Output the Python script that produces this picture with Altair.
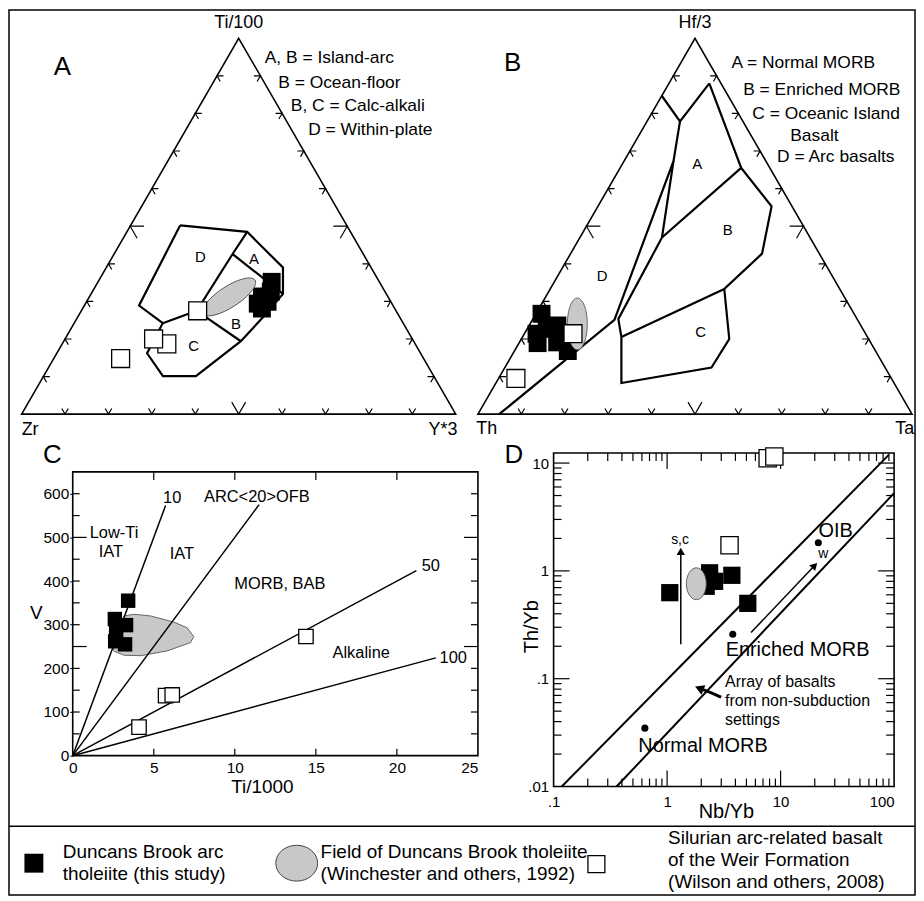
import math
import altair as alt
import pandas as pd

FONT = "Liberation Sans"
H = math.sqrt(3) / 2
GREY = "#c8c8c8"
EDGE = "#444444"
BLACK = "#000000"
W_ALL, H_ALL = 910, 889

# ---------------- Panel A : Ti/100 - Zr - Y*3  (percent; Zr = 100 - Ti - Y) ----------------
A_LINES_TI = [[50.2, 48.5, 39.0, 32.0, 25.8, 19.4, 10.1, 10.1, 16.2, 24.2, 28.9, 50.2],
              [48.5, 42.6, 27.5], [27.5, 24.2], [42.6, 32.0], [27.5, 19.4]]
A_LINES_Y = [[11.4, 27.7, 40.7, 44.2, 42.7, 40.8, 35.1, 27.5, 20.8, 20.4, 12.6, 11.4],
             [27.7, 27.3, 26.6], [26.6, 20.4], [27.3, 44.2], [26.6, 40.8]]
A_FIELD_NAMES = ["D", "A", "B", "C"]
A_FIELD_TI = [41.7, 41.2, 24.0, 18.0]
A_FIELD_Y = [20.3, 32.9, 37.4, 30.6]
A_BLACK_TI = [35.2, 32.6, 31.3, 29.9, 28.1, 29.4]
A_BLACK_Y = [40.0, 41.1, 39.7, 41.7, 41.3, 39.7]
A_WHITE_TI = [27.5, 18.7, 20.0, 14.8]
A_WHITE_Y = [26.8, 24.1, 20.4, 15.4]
A_DB_TI = [31.2]
A_DB_Y = [32.2]
A_KEY = ["A, B = Island-arc", "B = Ocean-floor", "B, C = Calc-alkali", "D = Within-plate"]

# ---------------- Panel B : Hf/3 - Th - Ta  (percent; Th = 100 - Hf - Ta) ----------------
B_LINES_HF = [[67.3, 47.0, 25.3, 20.5, 8.3, 12.4, 20.0, 33.3, 42.7, 55.3, 65.5, 88.0],
              [84.7, 77.9, 88.0], [77.9, 67.3, 25.1, 0.0], [47.0, 65.5], [20.5, 33.3]]
B_LINES_TA = [[11.4, 18.9, 19.7, 22.8, 28.9, 47.6, 47.9, 40.1, 44.1, 40.0, 27.9, 9.3],
              [0.0, 7.6, 9.3], [7.6, 11.4, 18.9, 4.9], [18.9, 27.9], [22.8, 40.1]]
B_FIELD_NAMES = ["A", "B", "C", "D"]
B_FIELD_HF = [66.6, 48.9, 21.8, 36.8]
B_FIELD_TA = [17.2, 33.1, 40.4, 10.2]
B_BLACK_HF = [26.7, 23.6, 21.4, 18.9, 19.1, 16.8, 22.7]
B_BLACK_TA = [1.3, 6.5, 2.8, 4.3, 8.7, 12.3, 4.5]
B_WHITE_HF = [21.4, 9.5]
B_WHITE_TA = [11.2, 4.0]
B_DB_HF = [24.0]
B_DB_TA = [10.9]
B_KEY = ["A = Normal MORB", "B = Enriched MORB", "C = Oceanic Island", "Basalt", "D = Arc basalts"]

TRI_TICKS = [10, 20, 30, 40, 50, 60, 70, 80, 90]

# ---------------- Panel C : V vs Ti/1000 ----------------
C_RATIO = [10, 20, 50, 100]
C_RATIO_END_TI = [5.73, 11.5, 21.2, 22.4]
C_RATIO_END_V = [573, 575, 424, 224]
C_FIELD_TI = [2.46, 3.17, 3.78, 4.81, 6.24, 7.06, 7.47, 7.27, 5.83, 4.20, 3.17, 2.56, 2.46]
C_FIELD_V = [248, 320, 324, 320, 306, 293, 273, 259, 240, 229, 230, 239, 248]
C_BLACK_TI = [3.42, 2.60, 3.29, 2.68, 2.62, 3.23]
C_BLACK_V = [355, 313, 299, 282, 262, 255]
C_WHITE_TI = [14.39, 5.73, 6.14, 4.09]
C_WHITE_V = [273, 137.5, 139, 65.4]
C_LINE_LABELS = ["10", "ARC<20>OFB", "50", "100"]
C_LINE_LABEL_TI = [6.14, 11.36, 22.09, 23.48]
C_LINE_LABEL_V = [591, 592, 435, 224]
C_AREA_LABELS = ["Low-Ti", "IAT", "IAT", "MORB, BAB", "Alkaline"]
C_AREA_LABEL_TI = [2.55, 2.35, 6.74, 12.78, 17.8]
C_AREA_LABEL_V = [510, 466, 463, 394, 236]
C_X_LABELS = [0, 5, 10, 15, 20, 25]
C_Y_LABELS = [0, 100, 200, 300, 400, 500, 600]
C_Y_TICKS = [50, 100, 150, 200, 300, 350, 400, 450, 550, 600]
C_Y_TICKS_LONG = [250, 500]
C_X_TICKS = [5, 10, 15, 20]

# ---------------- Panel D : Th/Yb vs Nb/Yb ----------------
D_ARRAY_NB = [[0.118, 89.8], [0.359, 100.0]]
D_ARRAY_TH = [[0.01, 11.9], [0.01, 5.26]]
D_BLACK_NB = [1.056, 2.37, 2.62, 2.21, 3.72, 5.14]
D_BLACK_TH = [0.628, 0.96, 0.80, 0.72, 0.91, 0.50]
D_WHITE_NB = [3.55, 7.69, 8.81]
D_WHITE_TH = [1.73, 11.1, 11.5]
D_DB_NB = [1.81]
D_DB_TH = [0.76]
D_REF_NAMES = ["Normal MORB", "Enriched MORB", "OIB"]
D_REF_NB = [0.637, 3.79, 21.5]
D_REF_TH = [0.0348, 0.259, 1.82]
D_X_LABELS = [0.1, 1, 10, 100]
D_Y_LABELS = [0.01, 0.1, 1, 10]
D_X_MAJOR = [1, 10]
D_X_MINOR = [0.2, 0.3, 0.4, 0.5, 0.6, 0.7, 0.8, 0.9, 2, 3, 4, 5, 6, 7, 8, 9,
             20, 30, 40, 50, 60, 70, 80, 90]
D_Y_MAJOR = [0.1, 1, 10]
D_Y_MINOR = [0.02, 0.03, 0.04, 0.05, 0.06, 0.07, 0.08, 0.09, 0.2, 0.3, 0.4, 0.5,
             0.6, 0.7, 0.8, 0.9, 2, 3, 4, 5, 6, 7, 8, 9]

# ---------------- Legend ----------------
LEGEND_TEXT = ["Duncans Brook arc", "tholeiite (this study)",
               "Field of Duncans Brook tholeiite", "(Winchester and others, 1992)",
               "Silurian arc-related basalt", "of the Weir Formation", "(Wilson and others, 2008)"]

# ---------------- layout (pixels inside the chart) ----------------
A_BOX = (12.7, 448.7, 406)      # base left, base right, base y
B_BOX = (471.0, 907.0, 406)
C_BOX = (64, 471, 749, 464)     # left, right, bottom, top
D_BOX = (547, 889, 780, 445)
LEG_TOP = 820


# ================= helpers =================
def one_row():
    return pd.DataFrame({"z": [0]})


def ellipse_path(rx, ry):
    k = 0.5523

    def p(x, y):
        return f"{x:.4f},{y:.4f}"
    return ("M" + p(-rx, 0)
            + " C" + p(-rx, -k * ry) + " " + p(-k * rx, -ry) + " " + p(0, -ry)
            + " C" + p(k * rx, -ry) + " " + p(rx, -k * ry) + " " + p(rx, 0)
            + " C" + p(rx, k * ry) + " " + p(k * rx, ry) + " " + p(0, ry)
            + " C" + p(-k * rx, ry) + " " + p(-rx, k * ry) + " " + p(-rx, 0) + " Z")


def polylines_df(Ts, Rs):
    rows = []
    for i, (ts, rs) in enumerate(zip(Ts, Rs)):
        for j, (t, r) in enumerate(zip(ts, rs)):
            rows.append({"seg": i, "order": j, "T": t, "R": r})
    return pd.DataFrame(rows)


def chevrons_df(small=0.015, big=0.032):
    rows = []
    for i, t in enumerate(TRI_TICKS):
        q = t / 100.0
        d = big if t == 50 else small
        shapes = [
            [(q - d / 2, d * H), (q, 0.0), (q + d / 2, d * H)],
            [(q / 2 + d, q * H), (q / 2, q * H), (q / 2 + d / 2, (q - d) * H)],
            [(1 - q / 2 - d, q * H), (1 - q / 2, q * H), (1 - q / 2 - d / 2, (q - d) * H)],
        ]
        for j, pts in enumerate(shapes):
            for k, (x, y) in enumerate(pts):
                rows.append({"seg": f"{i}-{j}", "order": k, "px": x, "py": y})
    return pd.DataFrame(rows)


def tdf(texts, xs, ys):
    return pd.DataFrame({"text": texts, "px": xs, "py": ys})


def ternary_panel(box, lines_T, lines_R, fnames, fT, fR, bT, bR, wT, wR, eT, eR, ell, sq, texts):
    left, right, base = box
    side = right - left
    xs = alt.Scale(domain=[0, 1], range=[left, right], nice=False, zero=False)
    ys = alt.Scale(domain=[0, H], range=[base, base - side * H], nice=False, zero=False)
    X = alt.X("px:Q", scale=xs, axis=None)
    Y = alt.Y("py:Q", scale=ys, axis=None)

    def tern(df):
        return alt.Chart(df).transform_calculate(
            px="(datum.R + datum.T / 2) / 100", py="datum.T * 0.8660254 / 100")

    layers = []
    tri = polylines_df([[0, 0, 100, 0, 0]], [[0, 100, 0, 0, 100]])
    layers.append(tern(tri).mark_line(color=BLACK, strokeWidth=1.6).encode(
        x=X, y=Y, detail="seg:N", order="order:Q"))
    layers.append(alt.Chart(chevrons_df()).mark_line(color=BLACK, strokeWidth=1.2).encode(
        x=X, y=Y, detail="seg:N", order="order:Q"))
    layers.append(tern(polylines_df(lines_T, lines_R)).mark_line(
        color=BLACK, strokeWidth=2.2).encode(x=X, y=Y, detail="seg:N", order="order:Q"))
    layers.append(tern(pd.DataFrame({"T": fT, "R": fR, "name": fnames})).mark_text(
        font=FONT, fontSize=15, color=BLACK).encode(x=X, y=Y, text="name:N"))
    layers.append(tern(pd.DataFrame({"T": bT, "R": bR})).mark_square(
        size=sq, color=BLACK, opacity=1).encode(x=X, y=Y))
    layers.append(tern(pd.DataFrame({"T": eT, "R": eR})).mark_point(
        shape=ellipse_path(ell[0], ell[1]), size=ell[2], angle=ell[3], filled=True,
        fill=GREY, stroke=EDGE, strokeWidth=0.8, opacity=1).encode(x=X, y=Y))
    layers.append(tern(pd.DataFrame({"T": wT, "R": wR})).mark_square(
        size=sq, fill="white", stroke=BLACK, strokeWidth=1.3, opacity=1).encode(x=X, y=Y))
    for (df, size, align) in texts:
        layers.append(alt.Chart(df).mark_text(
            font=FONT, fontSize=size, align=align, baseline="middle", color=BLACK).encode(
            x=X, y=Y, text="text:N"))
    return alt.layer(*layers)


# ================= Panel A =================
A_texts = [
    (tdf(["A"], [0.094], [0.800]), 26, "center"),
    (tdf(["Ti/100"], [0.5], [0.902]), 18, "center"),
    (tdf(["Zr"], [0.0], [-0.036]), 18, "left"),
    (tdf(["Y*3"], [1.004], [-0.036]), 18, "right"),
    (tdf(A_KEY, [0.560, 0.591, 0.620, 0.660], [0.8195, 0.764, 0.709, 0.655]), 17.5, "left"),
]
panelA = ternary_panel(
    A_BOX, A_LINES_TI, A_LINES_Y, A_FIELD_NAMES, A_FIELD_TI, A_FIELD_Y,
    A_BLACK_TI, A_BLACK_Y, A_WHITE_TI, A_WHITE_Y, A_DB_TI, A_DB_Y,
    (1, 0.34, 3844, 327), 324, A_texts)

# ================= Panel B =================
B_texts = [
    (tdf(["B"], [0.080], [0.808]), 26, "center"),
    (tdf(["Hf/3"], [0.5], [0.902]), 18, "center"),
    (tdf(["Th"], [-0.004], [-0.034]), 18, "left"),
    (tdf(["Ta"], [1.005], [-0.034]), 18, "right"),
    (tdf(B_KEY, [0.584, 0.611, 0.632, 0.7195, 0.689], [0.808, 0.747, 0.691, 0.640, 0.592]), 17.5, "left"),
]
panelB = ternary_panel(
    B_BOX, B_LINES_HF, B_LINES_TA, B_FIELD_NAMES, B_FIELD_HF, B_FIELD_TA,
    B_BLACK_HF, B_BLACK_TA, B_WHITE_HF, B_WHITE_TA, B_DB_HF, B_DB_TA,
    (0.385, 1, 2704, 0), 324, B_texts)

# ================= Panel C =================
cl, cr, cb, ct = C_BOX
C_XAXIS = alt.Axis(orient="bottom", offset=cb - H_ALL, values=C_X_LABELS, ticks=False, domain=False,
                   grid=False, labelFontSize=15.5, labelPadding=5, labelFlush=False,
                   labelAlign={"condition": {"test": "datum.value > 24", "value": "right"}, "value": "center"},
                   title="Ti/1000", titleFontSize=19, titleFontWeight="normal", titleX=cl + 190, titleY=31,
                   titleAlign="center", titleBaseline="middle")
C_YAXIS = alt.Axis(orient="left", offset=-cl, values=C_Y_LABELS, ticks=True, tickSize=3, tickColor=BLACK,
                   domain=False, grid=False, labelFontSize=15.5, labelPadding=1, title="V", titleAngle=0,
                   titleFontSize=19, titleFontWeight="normal", titleX=-37, titleY=ct + 141,
                   titleAlign="center", titleBaseline="middle")
CX = alt.X("ti:Q", scale=alt.Scale(domain=[0, 25], range=[cl, cr], nice=False, zero=False), axis=C_XAXIS)
CY = alt.Y("v:Q", scale=alt.Scale(domain=[0, 650], range=[cb, ct], nice=False, zero=False), axis=C_YAXIS)

ratio_rows = []
for r, t1, v1 in zip(C_RATIO, C_RATIO_END_TI, C_RATIO_END_V):
    ratio_rows += [{"ratio": r, "order": 0, "ti": 0, "v": 0}, {"ratio": r, "order": 1, "ti": t1, "v": v1}]


def c_rule(df, x0=None, x1=None, y0=None, y1=None):
    ch = alt.Chart(df).mark_rule(color=BLACK, strokeWidth=1.2)
    if x0 is not None:
        return ch.encode(y=CY, x=alt.value(x0), x2=alt.value(x1))
    return ch.encode(x=CX, y=alt.value(y0), y2=alt.value(y1))


c_layers = [
    alt.Chart(pd.DataFrame({"ti": C_FIELD_TI, "v": C_FIELD_V, "order": list(range(len(C_FIELD_TI)))}))
    .mark_line(fill=GREY, stroke=EDGE, strokeWidth=0.8).encode(x=CX, y=CY, order="order:Q"),
    alt.Chart(pd.DataFrame(ratio_rows)).mark_line(color=BLACK, strokeWidth=1.5).encode(
        x=CX, y=CY, detail="ratio:N", order="order:Q"),
    alt.Chart(pd.DataFrame({"ti": C_BLACK_TI, "v": C_BLACK_V})).mark_square(
        size=210, color=BLACK, opacity=1).encode(x=CX, y=CY),
    alt.Chart(pd.DataFrame({"ti": C_WHITE_TI, "v": C_WHITE_V})).mark_square(
        size=210, fill="white", stroke=BLACK, strokeWidth=1.3, opacity=1).encode(x=CX, y=CY),
    alt.Chart(pd.DataFrame({"ti": C_LINE_LABEL_TI, "v": C_LINE_LABEL_V, "text": C_LINE_LABELS})).mark_text(
        font=FONT, fontSize=16.5, color=BLACK).encode(x=CX, y=CY, text="text:N"),
    alt.Chart(pd.DataFrame({"ti": C_AREA_LABEL_TI, "v": C_AREA_LABEL_V, "text": C_AREA_LABELS})).mark_text(
        font=FONT, fontSize=16.5, color=BLACK).encode(x=CX, y=CY, text="text:N"),
    alt.Chart(pd.DataFrame({"ti": [-1.25], "v": [689], "text": ["C"]})).mark_text(
        font=FONT, fontSize=26, color=BLACK).encode(x=CX, y=CY, text="text:N"),
    c_rule(pd.DataFrame({"v": C_Y_TICKS}), x0=cl, x1=cl + 7),
    c_rule(pd.DataFrame({"v": C_Y_TICKS}), x0=cr - 7, x1=cr),
    c_rule(pd.DataFrame({"v": C_Y_TICKS_LONG}), x0=cl, x1=cl + 14),
    c_rule(pd.DataFrame({"v": C_Y_TICKS_LONG}), x0=cr - 14, x1=cr),
    c_rule(pd.DataFrame({"ti": C_X_TICKS}), y0=ct, y1=ct + 8),
    c_rule(pd.DataFrame({"ti": C_X_TICKS}), y0=cb - 7, y1=cb),
    alt.Chart(pd.DataFrame({"ti": [0], "ti2": [25], "v": [0], "v2": [650]})).mark_rect(
        fillOpacity=0, stroke=BLACK, strokeWidth=1.6).encode(
        x=CX, x2="ti2:Q", y=CY, y2="v2:Q"),
]
panelC = alt.layer(*c_layers)

# ================= Panel D =================
dl, dr, db, dt = D_BOX
D_XAXIS = alt.Axis(orient="bottom", offset=db - H_ALL, values=D_X_LABELS, ticks=False, domain=False,
                   grid=False, labelFontSize=15, labelPadding=8, labelFlush=False,
                   labelExpr="datum.value < 0.5 ? '.1' : datum.value < 5 ? '1' : datum.value < 50 ? '10' : '100'",
                   labelAlign={"condition": {"test": "datum.value > 50", "value": "right"}, "value": "center"},
                   title="Nb/Yb", titleFontSize=20, titleFontWeight="normal", titleX=dl + 173, titleY=25,
                   titleAlign="center", titleBaseline="middle")
D_YAXIS = alt.Axis(orient="left", offset=-dl, values=D_Y_LABELS, ticks=False, domain=False, grid=False,
                   labelFontSize=15, labelPadding=5,
                   labelExpr="datum.value < 0.05 ? '.01' : datum.value < 0.5 ? '.1' : datum.value < 5 ? '1' : '10'",
                   title="Th/Yb", titleFontSize=20, titleFontWeight="normal", titleAngle=270,
                   titleX=-22, titleY=dt + 174, titleAlign="center", titleBaseline="middle")
DX = alt.X("nb:Q", scale=alt.Scale(type="log", domain=[0.1, 100], range=[dl, dr], nice=False), axis=D_XAXIS)
DY = alt.Y("th:Q", scale=alt.Scale(type="log", domain=[0.01, 12.4], range=[db, dt], nice=False), axis=D_YAXIS)

arr_rows = []
for i, (ns, ts) in enumerate(zip(D_ARRAY_NB, D_ARRAY_TH)):
    for j, (n, t) in enumerate(zip(ns, ts)):
        arr_rows.append({"seg": i, "order": j, "nb": n, "th": t})

arrow_rows = [
    {"seg": 0, "order": 0, "nb": 1.32, "th": 0.209}, {"seg": 0, "order": 1, "nb": 1.32, "th": 1.52},
    {"seg": 1, "order": 0, "nb": 5.49, "th": 0.268}, {"seg": 1, "order": 1, "nb": 19.96, "th": 1.12},
]
curve_rows = [
    {"order": 0, "nb": 2.99, "th": 0.0673}, {"order": 1, "nb": 2.45, "th": 0.0738},
    {"order": 2, "nb": 2.05, "th": 0.0795},
]


def dtext(texts, nbs, ths, size, align="center"):
    return alt.Chart(pd.DataFrame({"text": texts, "nb": nbs, "th": ths})).mark_text(
        font=FONT, fontSize=size, align=align, baseline="middle", color=BLACK).encode(
        x=DX, y=DY, text="text:N")


def dticks(vals, axis, length, side):
    df = pd.DataFrame({("nb" if axis == "x" else "th"): vals})
    ch = alt.Chart(df).mark_rule(color=BLACK, strokeWidth=1.2)
    if axis == "x":
        if side == "bottom":
            return ch.encode(x=DX, y=alt.value(db - length), y2=alt.value(db))
        return ch.encode(x=DX, y=alt.value(dt), y2=alt.value(dt + length))
    if side == "left":
        return ch.encode(y=DY, x=alt.value(dl), x2=alt.value(dl + length))
    return ch.encode(y=DY, x=alt.value(dr - length), x2=alt.value(dr))


d_layers = [
    dticks(D_X_MINOR, "x", 8, "bottom"), dticks(D_X_MINOR, "x", 8, "top"),
    dticks(D_X_MAJOR, "x", 16, "bottom"), dticks(D_X_MAJOR, "x", 16, "top"),
    dticks(D_Y_MINOR, "y", 8, "left"), dticks(D_Y_MINOR, "y", 8, "right"),
    dticks(D_Y_MAJOR, "y", 16, "left"), dticks(D_Y_MAJOR, "y", 16, "right"),
    alt.Chart(pd.DataFrame({"nb": [0.1], "nb2": [100], "th": [0.01], "th2": [12.4]})).mark_rect(
        fillOpacity=0, stroke=BLACK, strokeWidth=1.6).encode(x=DX, x2="nb2:Q", y=DY, y2="th2:Q"),
    alt.Chart(pd.DataFrame(arr_rows)).mark_line(color=BLACK, strokeWidth=2).encode(
        x=DX, y=DY, detail="seg:N", order="order:Q"),
    alt.Chart(pd.DataFrame({"nb": D_BLACK_NB, "th": D_BLACK_TH})).mark_square(
        size=300, color=BLACK, opacity=1).encode(x=DX, y=DY),
    alt.Chart(pd.DataFrame({"nb": D_DB_NB, "th": D_DB_TH})).mark_point(
        shape=ellipse_path(0.625, 1), size=1024, filled=True, fill=GREY, stroke=EDGE,
        strokeWidth=0.8, opacity=1).encode(x=DX, y=DY),
    alt.Chart(pd.DataFrame({"nb": D_WHITE_NB, "th": D_WHITE_TH})).mark_square(
        size=300, fill="white", stroke=BLACK, strokeWidth=1.3, opacity=1).encode(x=DX, y=DY),
    alt.Chart(pd.DataFrame({"nb": D_REF_NB, "th": D_REF_TH})).mark_circle(
        size=50, color=BLACK, opacity=1).encode(x=DX, y=DY),
    alt.Chart(pd.DataFrame(arrow_rows)).mark_line(color=BLACK, strokeWidth=1.5).encode(
        x=DX, y=DY, detail="seg:N", order="order:Q"),
    alt.Chart(pd.DataFrame({"nb": [1.32], "th": [1.52]})).mark_point(
        shape="triangle-up", size=70, filled=True, color=BLACK, opacity=1).encode(x=DX, y=DY),
    alt.Chart(pd.DataFrame({"nb": [19.96], "th": [1.12]})).mark_point(
        shape="triangle-up", size=70, angle=44, filled=True, color=BLACK, opacity=1).encode(x=DX, y=DY),
    alt.Chart(pd.DataFrame(curve_rows)).mark_line(color=BLACK, strokeWidth=3, interpolate="monotone").encode(
        x=DX, y=DY, order="order:Q"),
    alt.Chart(pd.DataFrame({"nb": [1.92], "th": [0.0815]})).mark_point(
        shape="triangle-up", size=110, angle=292, filled=True, color=BLACK, opacity=1).encode(x=DX, y=DY),
    dtext(["OIB"], [30.6], [2.33], 20),
    dtext(["Enriched MORB"], [14.1], [0.185], 20),
    dtext(["Normal MORB"], [2.07], [0.024], 20),
    dtext(["w"], [23.8], [1.42], 14),
    dtext(["s,c"], [1.30], [1.95], 14),
    dtext(["Array of basalts", "from non-subduction", "settings"], [3.24, 3.24, 3.24],
          [0.0926, 0.0626, 0.0418], 16, "left"),
    dtext(["D"], [0.0446], [11.85], 26),
]
panelD = alt.layer(*d_layers)

# ================= Legend =================
LEG_X = [54, 54, 313, 313, 662, 662, 662]
LEG_Y = [LEG_TOP + v for v in (26, 48, 26, 48, 12, 34, 56)]
legend = alt.layer(
    alt.Chart(one_row()).mark_rule(color=BLACK, strokeWidth=1.5).encode(
        x=alt.value(0), x2=alt.value(W_ALL), y=alt.value(LEG_TOP)),
    alt.Chart(one_row()).mark_square(size=361, color=BLACK, opacity=1).encode(
        x=alt.value(25), y=alt.value(LEG_TOP + 37)),
    alt.Chart(one_row()).mark_point(shape=ellipse_path(1, 0.857), size=1764, filled=True, fill=GREY,
                                    stroke=EDGE, strokeWidth=1, opacity=1).encode(
        x=alt.value(289), y=alt.value(LEG_TOP + 37)),
    alt.Chart(one_row()).mark_square(size=289, fill="white", stroke=BLACK, strokeWidth=1.3,
                                     opacity=1).encode(x=alt.value(590), y=alt.value(LEG_TOP + 38)),
    alt.Chart(pd.DataFrame({"text": LEGEND_TEXT, "x": LEG_X, "y": LEG_Y})).mark_text(
        font=FONT, fontSize=19, align="left", baseline="middle", color=BLACK).encode(
        x=alt.X("x:Q", scale=None, axis=None), y=alt.Y("y:Q", scale=None, axis=None), text="text:N"),
)

# ================= Compose =================
chart = alt.layer(panelA, panelB, panelC, panelD, legend).resolve_scale(
    x="independent", y="independent"
).resolve_axis(
    x="independent", y="independent"
).properties(
    width=W_ALL, height=H_ALL, padding=0, background="white",
    view=alt.ViewBackground(stroke=BLACK, strokeWidth=1.5)
).configure_axis(
    labelFont=FONT, titleFont=FONT, labelColor=BLACK, titleColor=BLACK
).configure_text(font=FONT)

chart.save("out.html", embed_options={"renderer": "svg", "actions": False})
